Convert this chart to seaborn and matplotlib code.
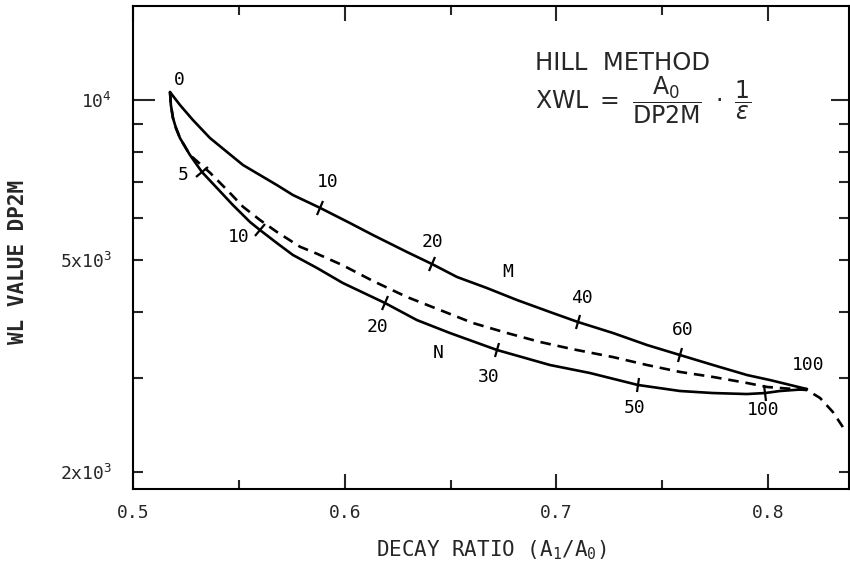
import numpy as np
import pandas as pd
import matplotlib
matplotlib.use("Agg")
import matplotlib.pyplot as plt
from matplotlib.markers import MarkerStyle
from matplotlib.transforms import Affine2D
from matplotlib.ticker import FixedLocator, FixedFormatter, NullFormatter
import seaborn as sns

# ---- curve M (upper solid) ----
m_ratio = [0.5173, 0.5220, 0.5281, 0.5362, 0.5442, 0.5518, 0.5598, 0.5678, 0.5754,
           0.5882, 0.6024, 0.6132, 0.6293, 0.6411, 0.6530, 0.6671, 0.6813, 0.6969,
           0.7102, 0.7267, 0.7428, 0.7584, 0.7740, 0.7901, 0.8009, 0.8184]
m_dp2m = [10350, 9786, 9172, 8482, 7988, 7547, 7227, 6921, 6628,
          6270, 5870, 5575, 5180, 4918, 4648, 4432, 4208, 3995,
          3825, 3648, 3463, 3316, 3176, 3041, 2976, 2862]

# ---- curve N (lower solid) ----
n_ratio = [0.5173, 0.5177, 0.5187, 0.5201, 0.5220, 0.5267, 0.5324, 0.5395, 0.5470,
           0.5551, 0.5598, 0.5678, 0.5754, 0.5868, 0.5990, 0.6189, 0.6340, 0.6496,
           0.6719, 0.6969, 0.7158, 0.7385, 0.7584, 0.7740, 0.7901, 0.7986, 0.8057,
           0.8184]
n_dp2m = [10350, 9786, 9250, 8862, 8482, 7884, 7322, 6832, 6348,
          5898, 5697, 5385, 5113, 4833, 4529, 4154, 3858, 3648,
          3389, 3176, 3068, 2913, 2838, 2813, 2801, 2813, 2838,
          2862]

# ---- dashed curve ----
d_ratio = [0.5173, 0.5177, 0.5187, 0.5201, 0.5220, 0.5267, 0.5362, 0.5442, 0.5518,
           0.5598, 0.5678, 0.5787, 0.5868, 0.5990, 0.6132, 0.6293, 0.6449, 0.6605,
           0.6766, 0.6922, 0.7078, 0.7267, 0.7428, 0.7584, 0.7740, 0.7901, 0.7995,
           0.8184, 0.8246, 0.8307, 0.8354]
d_dp2m = [10350, 9786, 9250, 8862, 8482, 7884, 7300, 6780, 6300,
          5950, 5650, 5300, 5140, 4890, 4570, 4263, 4030, 3809,
          3648, 3509, 3400, 3287, 3176, 3082, 3016, 2938, 2888,
          2850, 2754, 2591, 2428]

# ---- parameter ticks along the curves ----
m_tick_ratio = [0.5882, 0.6411, 0.7102, 0.7584]
m_tick_dp2m = [6270, 4918, 3825, 3316]
n_tick_ratio = [0.5324, 0.5598, 0.6189, 0.6719, 0.7385, 0.7986]
n_tick_dp2m = [7322, 5697, 4154, 3389, 2913, 2813]

# ---- curve annotations: text, x, y ----
note_text = ["0", "5", "10", "10", "20", "M", "20", "N", "30", "40", "60", "100", "50", "100"]
note_x = [0.5216, 0.5234, 0.5499, 0.5920, 0.6416, 0.6771, 0.6156, 0.6440, 0.6681,
          0.7121, 0.7598, 0.8189, 0.7371, 0.7976]
note_y = [10904, 7228, 5527, 7012, 5410, 4750, 3744, 3345, 3016,
          4244, 3696, 3176, 2637, 2614]

# ---- axes ticks ----
x_major = [0.5, 0.6, 0.7, 0.8]
x_major_labels = ["0.5", "0.6", "0.7", "0.8"]
x_minor = [0.55, 0.65, 0.75]
y_major = [2000, 5000, 10000]
y_major_labels = ["2x$10^{3}$", "5x$10^{3}$", "$10^{4}$"]
y_minor = [3000, 4000, 6000, 7000, 8000, 9000]

sns.set_style("ticks")
plt.rcParams.update({
    "font.family": ["DejaVu Sans Mono", "DejaVu Sans"],
    "mathtext.fontset": "custom",
    "mathtext.rm": "DejaVu Sans Mono",
    "mathtext.it": "DejaVu Sans Mono",
    "mathtext.bf": "DejaVu Sans Mono:bold",
    "axes.linewidth": 1.5,
})

W, H = 850, 573
fig = plt.figure(figsize=(W / 100, H / 100), dpi=100)
left, right, top, bottom = 133, 849, 6, 489
ax = fig.add_axes([left / W, 1 - bottom / H, (right - left) / W, (bottom - top) / H])
ax.set_yscale("log")
ax.set_xlim(0.4998, 0.8383)
ax.set_ylim(1857, 15020)

m_df = pd.DataFrame({"ratio": m_ratio, "dp2m": m_dp2m})
n_df = pd.DataFrame({"ratio": n_ratio, "dp2m": n_dp2m})
d_df = pd.DataFrame({"ratio": d_ratio, "dp2m": d_dp2m})

sns.lineplot(data=m_df, x="ratio", y="dp2m", sort=False, estimator=None,
             color="black", lw=1.9, ax=ax)
sns.lineplot(data=n_df, x="ratio", y="dp2m", sort=False, estimator=None,
             color="black", lw=1.9, ax=ax)
sns.lineplot(data=d_df, x="ratio", y="dp2m", sort=False, estimator=None,
             color="black", lw=1.9, ax=ax)
ax.lines[-1].set_dashes((4, 2.6))


def tangent_deg(xs, ys, x0, y0):
    pts = ax.transData.transform(np.column_stack([xs, ys]))
    p0 = ax.transData.transform((x0, y0))
    i = int(np.argmin(np.hypot(*(pts - p0).T)))
    j0, j1 = max(i - 1, 0), min(i + 1, len(pts) - 1)
    dx, dy = pts[j1] - pts[j0]
    return np.degrees(np.arctan2(dy, dx))


for cx, cy, tx, ty in [(m_ratio, m_dp2m, m_tick_ratio, m_tick_dp2m),
                       (n_ratio, n_dp2m, n_tick_ratio, n_tick_dp2m)]:
    for x0, y0 in zip(tx, ty):
        ang = tangent_deg(cx, cy, x0, y0)
        mk = MarkerStyle("|", transform=Affine2D().rotate_deg(ang))
        ax.plot([x0], [y0], marker=mk, markersize=11, markeredgewidth=1.6,
                color="black", linestyle="none")

for t, x, y in zip(note_text, note_x, note_y):
    ax.text(x, y, t, ha="center", va="center", fontsize=13, color="black")

# method box
ax.text(0.5615, 0.882, "HILL  METHOD", transform=ax.transAxes, ha="left",
        va="center", fontsize=17.5, family="DejaVu Sans")
ax.text(0.5615, 0.805,
        r"$\mathrm{XWL}\ =\ \dfrac{\mathrm{A_0}}{\mathrm{DP2M}}\ \cdot\ \dfrac{1}{\epsilon}$",
        transform=ax.transAxes, ha="left", va="center", fontsize=17,
        family="DejaVu Sans", math_fontfamily="dejavusans")

# ticks
ax.xaxis.set_major_locator(FixedLocator(x_major))
ax.xaxis.set_major_formatter(FixedFormatter(x_major_labels))
ax.xaxis.set_minor_locator(FixedLocator(x_minor))
ax.xaxis.set_minor_formatter(NullFormatter())
ax.yaxis.set_major_locator(FixedLocator(y_major))
ax.yaxis.set_major_formatter(FixedFormatter(y_major_labels))
ax.yaxis.set_minor_locator(FixedLocator(y_minor))
ax.yaxis.set_minor_formatter(NullFormatter())

ax.tick_params(axis="x", which="major", direction="in", length=11, width=1.5,
               top=True, bottom=True, labelsize=13, pad=11)
ax.tick_params(axis="x", which="minor", direction="in", length=6.5, width=1.5,
               top=True, bottom=True)
ax.tick_params(axis="y", which="major", direction="in", length=7.5, width=1.5,
               left=True, right=True, labelsize=13, pad=15)
ax.tick_params(axis="y", which="minor", direction="in", length=7.5, width=1.5,
               left=True, right=True)

big = ax.yaxis.get_major_ticks()[2]
big.tick1line.set_markersize(16)
big.tick2line.set_markersize(13)

ax.set_xlabel(r"DECAY RATIO ($\mathrm{A_1/A_0}$)", fontsize=15)
ax.xaxis.set_label_coords(0.5, -0.126)
ax.xaxis.label.set_va("center")
ax.set_ylabel("WL VALUE DP2M", fontsize=15, fontweight="bold")
ax.yaxis.set_label_coords(-0.1606, 0.47)
ax.yaxis.label.set_va("center")

for s in ax.spines.values():
    s.set_linewidth(1.5)
    s.set_color("black")

fig.savefig("out.png", dpi=100, facecolor="white")
